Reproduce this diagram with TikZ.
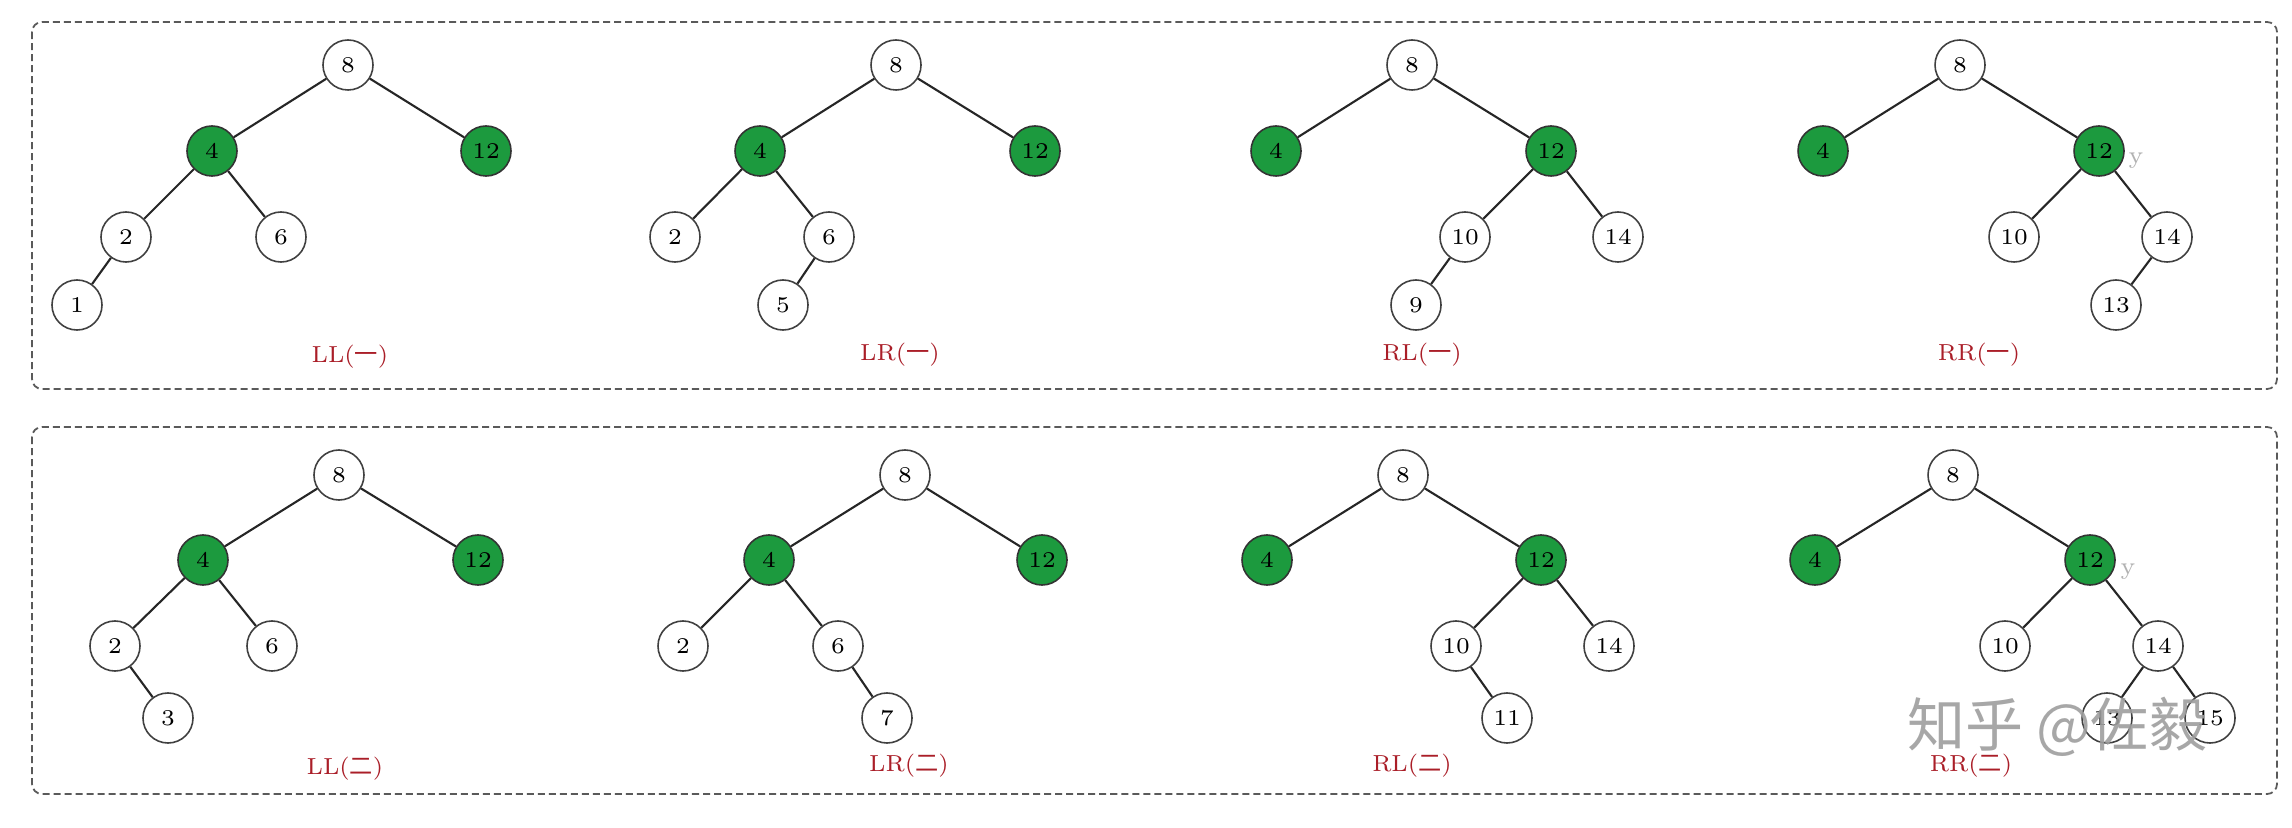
\documentclass[tikz,border=0pt]{standalone}
\usepackage{fontspec}
\newfontfamily\cjk{Noto Sans CJK SC}
\definecolor{nodegreen}{RGB}{28,154,62}
\definecolor{labred}{RGB}{170,30,40}
\definecolor{boxgray}{RGB}{90,90,90}
\tikzset{
  wn/.style={circle, draw=black!75, line width=0.45pt, fill=white, minimum size=0.5cm, inner sep=0pt, font=\fontsize{6.4}{7}\selectfont},
  gn/.style={wn, fill=nodegreen, draw=black!80},
  edge/.style={line width=0.6pt, black!85},
  frame/.style={draw=boxgray, dash pattern=on 0.07cm off 0.04cm, line width=0.5pt, rounded corners=0.1cm},
  lab/.style={text=labred, font=\fontsize{6.6}{7}\selectfont},
  ghost/.style={text=black!30, font=\fontsize{7}{8}\selectfont},
}
\begin{document}
\begin{tikzpicture}[x=0.01cm,y=-0.01cm]
\useasboundingbox (0,0) rectangle (2292,828);
\fill[white] (0,0) rectangle (2292,828);
% frames
\draw[frame] (32,22) rectangle (2277,389);
\draw[frame] (32,427) rectangle (2277,794);

% ---------- top row ----------
% LL(一)
\node[wn] (a8) at (348,65) {8};
\node[gn] (a4) at (212,151) {4};
\node[gn] (a12) at (486,151) {12};
\node[wn] (a2) at (126,237) {2};
\node[wn] (a6) at (281,237) {6};
\node[wn] (a1) at (77,305) {1};
\draw[edge] (a8)--(a4); \draw[edge] (a8)--(a12);
\draw[edge] (a4)--(a2); \draw[edge] (a4)--(a6); \draw[edge] (a2)--(a1);
\node[lab] (la) at (350,357) {LL({\cjk 一})};

% LR(一)
\node[wn] (b8) at (896,65) {8};
\node[gn] (b4) at (760,151) {4};
\node[gn] (b12) at (1035,151) {12};
\node[wn] (b2) at (675,237) {2};
\node[wn] (b6) at (829,237) {6};
\node[wn] (b5) at (783,305) {5};
\draw[edge] (b8)--(b4); \draw[edge] (b8)--(b12);
\draw[edge] (b4)--(b2); \draw[edge] (b4)--(b6); \draw[edge] (b6)--(b5);
\node[lab] (lb) at (900,355) {LR({\cjk 一})};

% RL(一)
\node[wn] (c8) at (1412,65) {8};
\node[gn] (c4) at (1276,151) {4};
\node[gn] (c12) at (1551,151) {12};
\node[wn] (c10) at (1465,237) {10};
\node[wn] (c14) at (1618,237) {14};
\node[wn] (c9) at (1416,305) {9};
\draw[edge] (c8)--(c4); \draw[edge] (c8)--(c12);
\draw[edge] (c12)--(c10); \draw[edge] (c12)--(c14); \draw[edge] (c10)--(c9);
\node[lab] (lc) at (1422,355) {RL({\cjk 一})};

% RR(一)
\node[wn] (d8) at (1960,65) {8};
\node[gn] (d4) at (1823,151) {4};
\node[gn] (d12) at (2099,151) {12};
\node[wn] (d10) at (2014,237) {10};
\node[wn] (d14) at (2167,237) {14};
\node[wn] (d13) at (2116,305) {13};
\draw[edge] (d8)--(d4); \draw[edge] (d8)--(d12);
\draw[edge] (d12)--(d10); \draw[edge] (d12)--(d14); \draw[edge] (d14)--(d13);
\node[lab] (ld) at (1979,355) {RR({\cjk 一})};
\node[ghost] (dy) at (2136,161) {y};

% ---------- bottom row ----------
% LL(二)
\node[wn] (e8) at (339,475) {8};
\node[gn] (e4) at (203,560) {4};
\node[gn] (e12) at (478,560) {12};
\node[wn] (e2) at (115,646) {2};
\node[wn] (e6) at (272,646) {6};
\node[wn] (e3) at (168,718) {3};
\draw[edge] (e8)--(e4); \draw[edge] (e8)--(e12);
\draw[edge] (e4)--(e2); \draw[edge] (e4)--(e6); \draw[edge] (e2)--(e3);
\node[lab] (le) at (345,769) {LL({\cjk 二})};

% LR(二)
\node[wn] (f8) at (905,475) {8};
\node[gn] (f4) at (769,560) {4};
\node[gn] (f12) at (1042,560) {12};
\node[wn] (f2) at (683,646) {2};
\node[wn] (f6) at (838,646) {6};
\node[wn] (f7) at (887,718) {7};
\draw[edge] (f8)--(f4); \draw[edge] (f8)--(f12);
\draw[edge] (f4)--(f2); \draw[edge] (f4)--(f6); \draw[edge] (f6)--(f7);
\node[lab] (lf) at (909,766) {LR({\cjk 二})};

% RL(二)
\node[wn] (g8) at (1403,475) {8};
\node[gn] (g4) at (1267,560) {4};
\node[gn] (g12) at (1541,560) {12};
\node[wn] (g10) at (1456,646) {10};
\node[wn] (g14) at (1609,646) {14};
\node[wn] (g11) at (1507,718) {11};
\draw[edge] (g8)--(g4); \draw[edge] (g8)--(g12);
\draw[edge] (g12)--(g10); \draw[edge] (g12)--(g14); \draw[edge] (g10)--(g11);
\node[lab] (lg) at (1412,766) {RL({\cjk 二})};

% RR(二)
\node[wn] (h8) at (1953,475) {8};
\node[gn] (h4) at (1815,560) {4};
\node[gn] (h12) at (2090,560) {12};
\node[wn] (h10) at (2005,646) {10};
\node[wn] (h14) at (2158,646) {14};
\node[wn] (h13) at (2107,718) {13};
\node[wn] (h15) at (2210,718) {15};
\draw[edge] (h8)--(h4); \draw[edge] (h8)--(h12);
\draw[edge] (h12)--(h10); \draw[edge] (h12)--(h14);
\draw[edge] (h14)--(h13); \draw[edge] (h14)--(h15);
\node[lab] (lh) at (1971,766) {RR({\cjk 二})};
\node[ghost] (hy) at (2128,572) {y};

% watermark
\node[text=black!38, opacity=0.9, font=\cjk\fontsize{16.5}{17}\selectfont] (wm) at (2057,727) {知乎 @佐毅};
\end{tikzpicture}
\end{document}
